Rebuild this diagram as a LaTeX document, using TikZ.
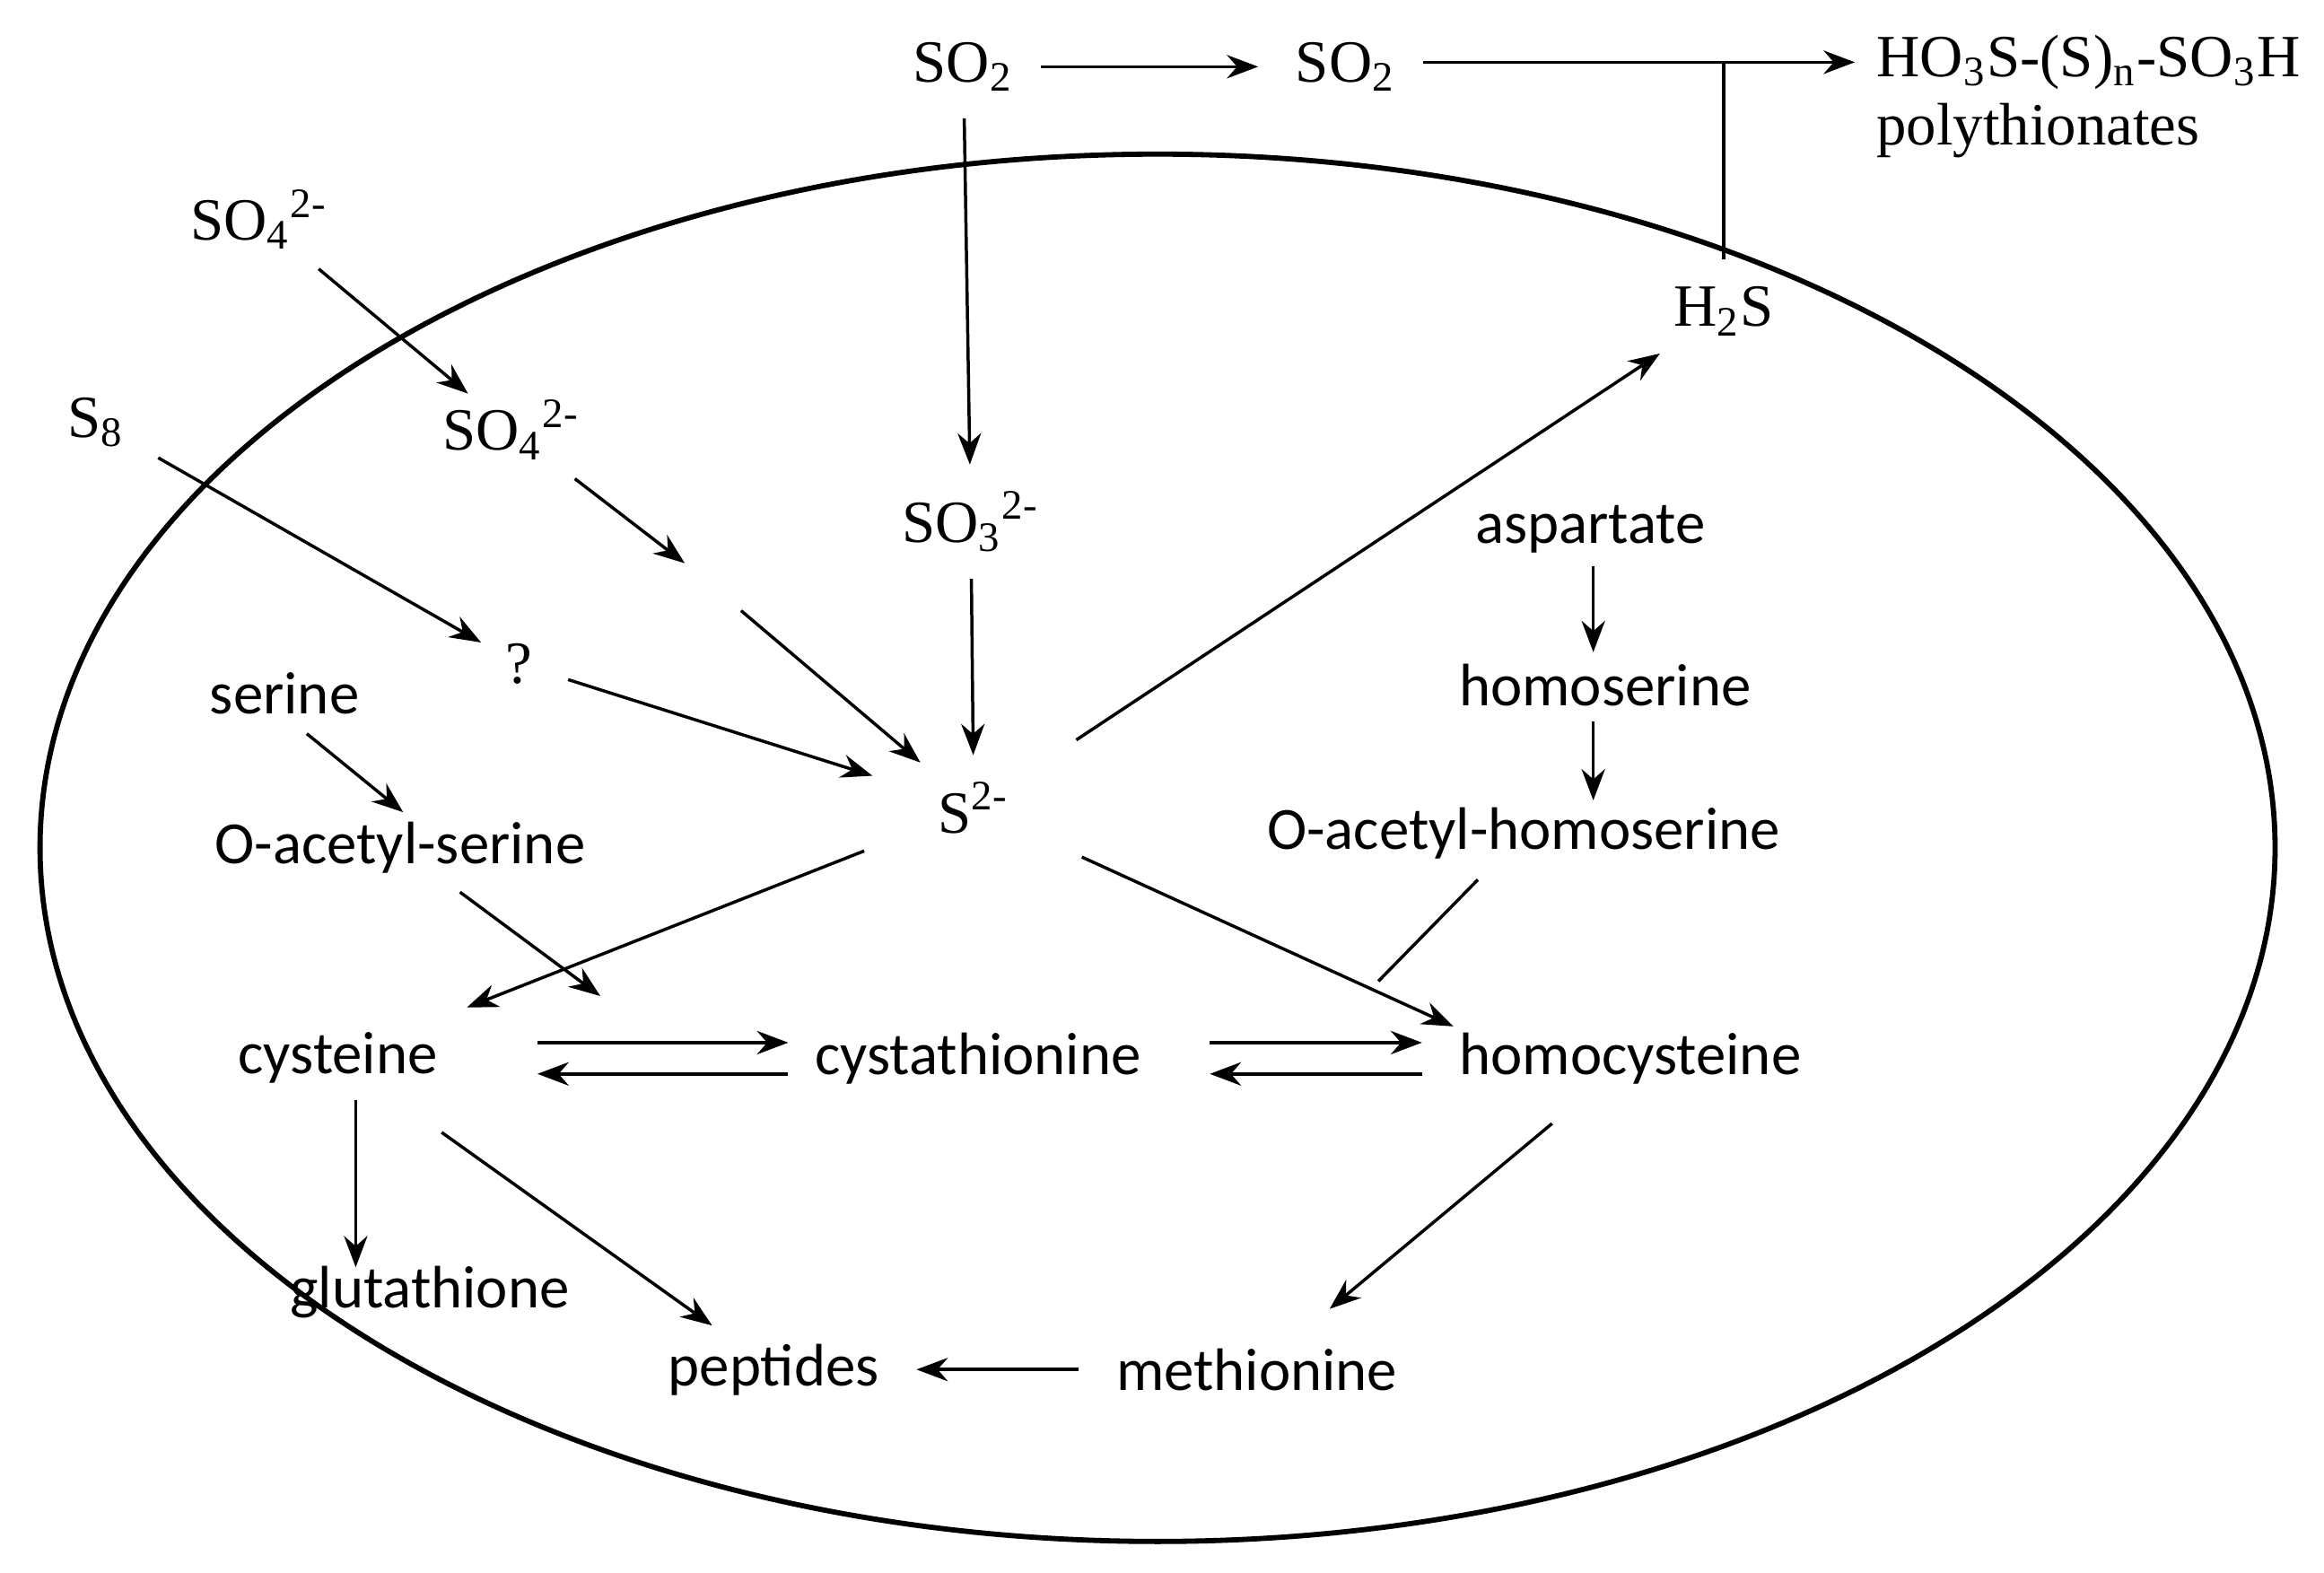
\documentclass[tikz,border=0pt]{standalone}
\usepackage{fontspec}
\setmainfont{Liberation Serif}
\newfontfamily\sansf{Carlito}
\usetikzlibrary{arrows.meta}
\tikzset{
  chem/.style={font=\fontsize{11.5}{13}\selectfont,inner sep=1pt},
  mol/.style={font=\sansf\fontsize{11.5}{13}\selectfont,inner sep=1pt},
  rx/.style={draw,line width=0.6pt,-{Stealth[length=6pt,width=4.5pt]},shorten >=4pt,shorten <=4pt},
  bar/.style={draw,line width=0.6pt}
}
\begin{document}
\begin{tikzpicture}[x=0.01cm,y=-0.01cm]
    \useasboundingbox (0,0) rectangle (1568,1061);
    \draw[line width=1pt] (781,572) ellipse [x radius=754,y radius=468];
    % outside the cell
    \path (650,45) node(so2a)[chem] {SO\textsubscript{2}};
    \path (908,45) node(so2b)[chem] {SO\textsubscript{2}};
    \path (1262,42) node(poly)[chem,anchor=west] {HO\textsubscript{3}S-(S)\textsubscript{n}-SO\textsubscript{3}H};
    \path (1262,88) node(polyname)[chem,anchor=west] {polythionates};
    \path (1163,210) node(h2s)[chem] {H\textsubscript{2}S};
    \path (175,148) node(so4out)[chem] {SO\textsubscript{4}\textsuperscript{2-}};
    \path (65,285) node(s8)[chem] {S\textsubscript{8}};
    % inside the cell
    \path (345,290) node(so4in)[chem] {SO\textsubscript{4}\textsuperscript{2-}};
    \path (350,448) node(unk)[chem] {?};
    \path (655,352) node(so3)[chem] {SO\textsubscript{3}\textsuperscript{2-}};
    \path (657,545) node(s2)[chem] {S\textsuperscript{2-}};
    \path (1073,357) node(asp)[mol] {aspartate};
    \path (1083,462) node(hser)[mol] {homoserine};
    \path (1028,562) node(oahs)[mol] {O-acetyl-homoserine};
    \path (192,468) node(ser)[mol] {serine};
    \path (270,572) node(oas)[mol] {O-acetyl-serine};
    \path (228,714) node(cys)[mol] {cysteine};
    \path (660,714) node(cysta)[mol] {cystathionine};
    \path (1100,714) node(hcys)[mol] {homocysteine};
    \path (290,872) node(glut)[mol] {glutathione};
    \path (522,924) node(pep)[mol] {peptides};
    \path (848,924) node(met)[mol] {methionine};
    \coordinate (tj) at (1163,42);
    \coordinate (m1) at (462,380);
    \coordinate (m2) at (500,412);
    \coordinate (j1) at (405,672);
    \coordinate (j2) at (930,662);
    \coordinate (g1) at (240,742);
    \coordinate (g2) at (240,855);
    \coordinate (a1) at (1075,382);
    \coordinate (a2) at (1075,440);
    \coordinate (a3) at (1075,487);
    \coordinate (a4) at (1075,540);
    \coordinate (s1) at (207,495);
    \coordinate (s3) at (272,548);
    \coordinate (p1) at (960,42);
    % connectors
    \path (so2a) edge[rx,shorten <=4pt,shorten >=6pt] (so2b);
    \path (p1) edge[rx,shorten <=0pt,shorten >=3pt] (poly);
    \path (h2s) edge[bar,shorten <=4pt] (tj);
    \path (so2a) edge[rx] (so3);
    \path (so4out) edge[rx,shorten >=0pt] (so4in);
    \path (so4in) edge[rx,shorten >=0pt] (m1);
    \path (m2) edge[rx,shorten <=0pt] (s2);
    \path (s8) edge[rx,shorten <=6pt] (unk);
    \path (unk) edge[rx,shorten <=6pt,shorten >=12pt] (s2);
    \path (so3) edge[rx] (s2);
    \path (s2) edge[rx,shorten <=14pt] (h2s);
    \path (a1) edge[rx,shorten <=0pt,shorten >=0pt] (a2);
    \path (a3) edge[rx,shorten <=0pt,shorten >=0pt] (a4);
    \path (s1) edge[rx,shorten <=0pt,shorten >=0pt] (s3);
    \path (oas) edge[rx,shorten >=0pt] (j1);
    \path (s2) edge[rx,shorten <=14pt,shorten >=10pt] (cys);
    \path (s2) edge[rx,shorten <=14pt,shorten >=0pt] (hcys.north west);
    \path (oahs) edge[bar,shorten <=4pt] (j2);
    \path ([yshift=3pt]cys.east) edge[rx,shorten <=18pt] ([yshift=3pt]cysta.west);
    \path ([yshift=-3pt]cysta.west) edge[rx,shorten >=18pt] ([yshift=-3pt]cys.east);
    \path ([yshift=3pt]cysta.east) edge[rx,shorten <=12pt,shorten >=6pt] ([yshift=3pt]hcys.west);
    \path ([yshift=-3pt]hcys.west) edge[rx,shorten <=6pt,shorten >=12pt] ([yshift=-3pt]cysta.east);
    \path (g1) edge[rx,shorten <=0pt,shorten >=0pt] (g2);
    \path (cys) edge[rx,shorten <=14pt] (pep);
    \path (hcys) edge[rx,shorten <=10pt,shorten >=10pt] (met);
    \path (met) edge[rx,shorten <=6pt,shorten >=6pt] (pep);
\end{tikzpicture}
\end{document}
